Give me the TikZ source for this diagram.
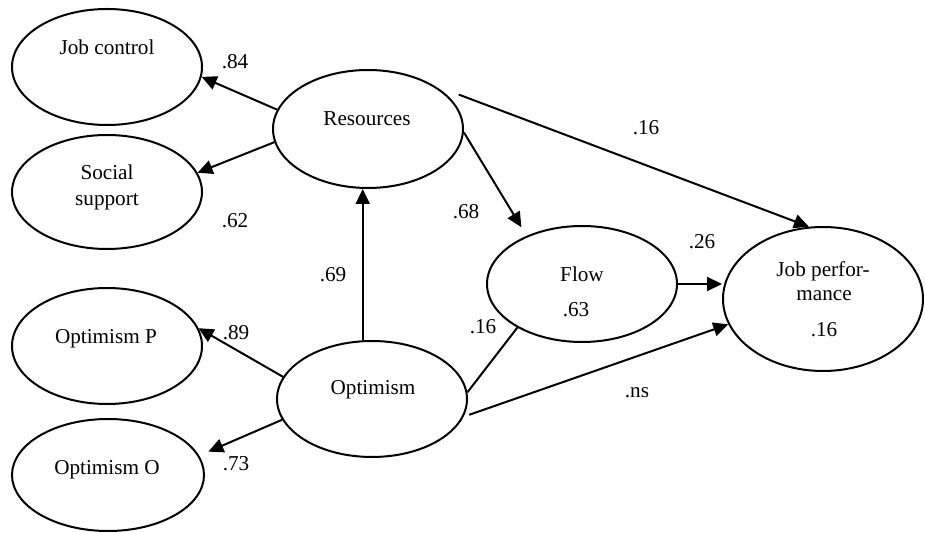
\documentclass[tikz,border=0pt]{standalone}
\usepackage{fontspec}
\setmainfont{Liberation Serif}
\usetikzlibrary{shapes.geometric,arrows.meta}
\begin{document}
\begin{tikzpicture}[x=0.5pt,y=-0.5pt,
  latent/.style={draw,ellipse,line width=1pt,inner sep=0pt},
  txt/.style={inner sep=0pt,font=\fontsize{10.6}{12}\selectfont,text height=0.68em,text depth=0pt},
  path/.style={line width=1pt,-{Triangle[length=7.5pt,width=7pt]}},
  link/.style={line width=1pt}]
\useasboundingbox (0,0) rectangle (925,533);

% latent variables
\node[latent,minimum width=95pt,minimum height=58pt] (jc)   at (107,67)  {};
\node[latent,minimum width=95pt,minimum height=57pt] (ss)   at (107,192) {};
\node[latent,minimum width=95pt,minimum height=58pt] (optp) at (107,346) {};
\node[latent,minimum width=96pt,minimum height=56pt] (opto) at (108,475) {};
\node[latent,minimum width=95pt,minimum height=59pt] (res)  at (368,129) {};
\node[latent,minimum width=95pt,minimum height=58pt] (opt)  at (372,399) {};
\node[latent,minimum width=95pt,minimum height=58pt] (flow) at (582,284) {};
\node[latent,minimum width=100pt,minimum height=72pt] (jp)  at (823,299) {};

% names inside the ellipses
\node[txt] (tjc)   at (107,48)  {Job control};
\node[txt] (tss1)  at (107,173) {Social};
\node[txt] (tss2)  at (107,199) {support};
\node[txt] (toptp) at (106,337) {Optimism P};
\node[txt] (topto) at (107,468) {Optimism O};
\node[txt] (tres)  at (367,119) {Resources};
\node[txt] (topt)  at (373,388) {Optimism};
\node[txt] (tflow) at (582,275) {Flow};
\node[txt] (tjp1)  at (823,270) {Job perfor-};
\node[txt] (tjp2)  at (824,294) {mance};
\node[txt] (rflow) at (576,310) {.63};
\node[txt] (rjp)   at (824,330) {.16};

% paths
\draw[path] (res.168.2) -- (jc.-6.1);
\draw[path] (res.188.6) -- (ss.12.1);
\draw[path] (opt.166.3) -- (optp.11.9);
\draw[path,shorten >=5pt] (opt.193.3) -- (opto.12.7);
\draw[path] (opt.99.8) -- (opt.99.8 |- res.south);
\draw[path,shorten >=5pt] (res.-2.4) -- (flow.139.1);
\draw[path] ([shift={(9,-3)}]res.21.5) -- (jp.101.9);
\draw[path] (flow.east) -- (flow.east -| jp.west);
\draw[path,shorten <=3pt] (opt.-11.8) -- (jp.195.6);
\draw[link] (opt.4.2) -- (flow.214.5);

% path coefficients
\node[txt] (c84) at (235,62)  {.84};
\node[txt] (c62) at (235,221) {.62};
\node[txt] (c89) at (236,333) {.89};
\node[txt] (c73) at (236,464) {.73};
\node[txt] (c69) at (333,275) {.69};
\node[txt] (c68) at (466,212) {.68};
\node[txt] (c16a) at (646,128) {.16};
\node[txt] (c26) at (702,242) {.26};
\node[txt] (c16b) at (483,327) {.16};
\node[txt] (cns) at (637,391) {.ns};
\end{tikzpicture}
\end{document}
